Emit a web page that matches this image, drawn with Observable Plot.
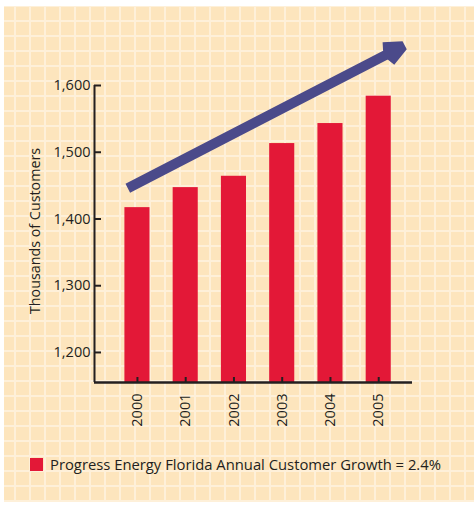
<!DOCTYPE html>
<html><head><meta charset="utf-8">
<script src="https://cdn.jsdelivr.net/npm/d3@7"></script>
<script src="https://cdn.jsdelivr.net/npm/@observablehq/plot@0.6"></script>
<style>
html,body{margin:0;padding:0;background:#fff;}
body{width:474px;height:505px;position:relative;overflow:hidden;font-family:"Open Sans",sans-serif;}
#panel{position:absolute;left:4px;top:6px;width:470px;height:496px;background-color:#fde5bd;
  background-image:linear-gradient(to right,#fef0d9 2px,transparent 2px),linear-gradient(to bottom,#fef0d9 2px,transparent 2px);
  background-size:15px 15px;background-position:10px 14px;}
#chart{position:absolute;left:0;top:0;}
#chart g[aria-label="y-axis tick label"] text,#chart g[aria-label="x-axis tick label"] text{font-size:14.5px;}
#legend{position:absolute;left:30px;top:454px;display:flex;align-items:center;font-size:14.8px;color:#231f20;white-space:nowrap;}
#legend .sw{display:inline-block;width:13px;height:13px;background:#e31837;margin-right:7px;}
</style></head><body>
<div id="panel"></div>
<div id="chart"></div>
<div id="legend"><span class="sw"></span><span id="legtext"></span></div>
<script>
const years = [2000, 2001, 2002, 2003, 2004, 2005];
const customers = [1417, 1447, 1464, 1513, 1543, 1584];
const yTicks = [1200, 1300, 1400, 1500, 1600];
const yDomain = [1155, 1600];
const xDomain = [1999.11, 2005.7];
const yTitle = "Thousands of Customers";
const legendLabel = "Progress Energy Florida Annual Customer Growth = 2.4%";
const trendArrow = [{x1: 1999.8, y1: 1446, x2: 2005.5, y2: 1659}];

const rows = years.map((year, i) => ({year, value: customers[i]}));
const halfBar = 0.26;
const ink = "#231f20";
document.getElementById("legtext").textContent = legendLabel;

const chart = Plot.plot({
  width: 474, height: 445,
  marginLeft: 94, marginRight: 62, marginTop: 85, marginBottom: 63,
  style: {background: "transparent", fontFamily: "'Open Sans', sans-serif", fontSize: "14px", color: ink, overflow: "visible"},
  x: {domain: xDomain, label: null},
  y: {domain: yDomain, label: null},
  marks: [
    Plot.rectY(rows, {x1: d => d.year - halfBar, x2: d => d.year + halfBar, y1: yDomain[0], y2: "value", fill: "#e31837"}),
    Plot.axisY({ticks: yTicks, tickFormat: d3.format(","), tickSize: -7, tickPadding: 11, strokeWidth: 2, label: null}),
    Plot.axisX({ticks: years, tickFormat: d => String(d), tickSize: -5, tickPadding: 16, tickRotate: -90, strokeWidth: 2, label: null}),
    Plot.ruleX([xDomain[0]], {y1: yDomain[0], y2: yTicks[yTicks.length - 1], stroke: ink, strokeWidth: 2}),
    Plot.ruleY([yDomain[0]], {stroke: ink, strokeWidth: 2.5}),
    Plot.arrow(trendArrow, {x1: "x1", y1: "y1", x2: "x2", y2: "y2", stroke: "#4b4a8a", strokeWidth: 10, headLength: 3, headAngle: 48, strokeLinejoin: "miter", strokeLinecap: "butt"}),
    Plot.text([yTitle], {text: d => d, frameAnchor: "left", textAnchor: "middle", rotate: -90, dx: -59, dy: -3, fill: ink, fontSize: 14.3})
  ]
});
document.getElementById("chart").appendChild(chart);
</script>
</body></html>
